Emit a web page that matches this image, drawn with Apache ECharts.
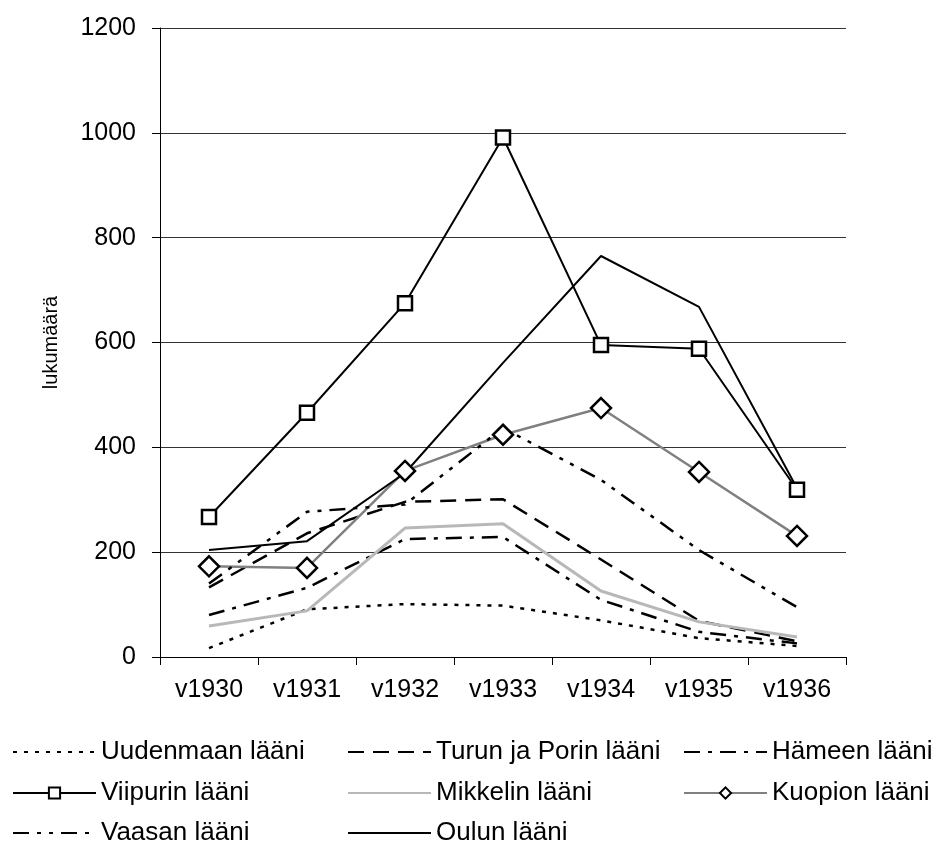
<!DOCTYPE html>
<html>
<head>
<meta charset="utf-8">
<script src="https://cdn.jsdelivr.net/npm/echarts@6/dist/echarts.min.js"></script>
<style>
  html, body { margin: 0; padding: 0; background: #fff; }
  #chart { width: 939px; height: 842px; }
</style>
</head>
<body>
<div id="chart"></div>
<script>
// vuodet ja läänit
var years = ['v1930', 'v1931', 'v1932', 'v1933', 'v1934', 'v1935', 'v1936'];
var yTicks = [0, 200, 400, 600, 800, 1000, 1200];

var uudenmaa = [17, 91, 101, 98, 70, 36, 21];
var turunPori = [133, 236, 296, 301, 186, 69, 30];
var hame = [80, 132, 225, 229, 109, 48, 26];
var viipuri = [267, 466, 675, 991, 595, 588, 319];
var mikkeli = [59, 88, 246, 254, 126, 67, 38];
var kuopio = [173, 170, 355, 424, 475, 353, 231];
var vaasa = [140, 277, 291, 437, 338, 204, 95];
var oulu = [204, 221, 351, 561, 765, 668, 322];

var font = 'Liberation Sans, Arial, sans-serif';

function lineSeries(name, data, color, width, dash, symbol, symbolSize) {
    return {
        name: name,
        type: 'line',
        data: data,
        symbol: symbol || 'none',
        symbolSize: symbolSize || 0,
        showSymbol: !!symbol,
        itemStyle: {
            color: '#fff',
            borderColor: '#000',
            borderWidth: 2.5
        },
        lineStyle: {
            color: color,
            width: width,
            type: dash || 'solid'
        },
        emphasis: { disabled: true },
        animation: false
    };
}

// selitteen rivit: nimi, vasen reuna, rivin keskikohta, onko merkki
function legendItem(name, left, cy, hasSymbol) {
    return {
        orient: 'horizontal',
        left: left,
        top: cy - 13,
        padding: 0,
        itemWidth: 83,
        itemHeight: 14,
        itemStyle: hasSymbol ? {} : { opacity: 0 },
        textStyle: { color: '#000', fontSize: 26, fontFamily: font },
        selectedMode: false,
        data: [name]
    };
}

var myChart = echarts.init(document.getElementById('chart'));
var option = {
    backgroundColor: '#fff',
    grid: {
        left: 160,
        right: 93,
        top: 28,
        bottom: 185
    },
    legend: [
        legendItem('Uudenmaan lääni', 12, 752, false),
        legendItem('Viipurin lääni', 12, 793, true),
        legendItem('Vaasan lääni', 12, 833, false),
        legendItem('Turun ja Porin lääni', 347, 752, false),
        legendItem('Mikkelin lääni', 347, 793, false),
        legendItem('Oulun lääni', 347, 833, false),
        legendItem('Hämeen lääni', 683, 752, false),
        legendItem('Kuopion lääni', 683, 793, true)
    ],
    xAxis: {
        type: 'category',
        boundaryGap: true,
        data: years,
        axisLine: { lineStyle: { color: '#000', width: 1 } },
        axisTick: { show: true, length: 8, lineStyle: { color: '#000' } },
        axisLabel: {
            color: '#000',
            fontSize: 25,
            fontFamily: font,
            margin: 21
        },
        splitLine: { show: false }
    },
    yAxis: {
        type: 'value',
        min: yTicks[0],
        max: yTicks[yTicks.length - 1],
        interval: 200,
        name: 'lukumäärä',
        nameLocation: 'middle',
        nameGap: 99,
        nameTextStyle: { color: '#000', fontSize: 20, fontFamily: font },
        axisLine: { show: true, lineStyle: { color: '#000', width: 1 } },
        axisTick: { show: true, length: 8, lineStyle: { color: '#000' } },
        axisLabel: {
            color: '#000',
            fontSize: 25,
            fontFamily: font,
            margin: 24,
            formatter: function (v) { return String(v); }
        },
        splitLine: { show: true, lineStyle: { color: '#333', width: 1 } }
    },
    series: [
        lineSeries('Uudenmaan lääni', uudenmaa, '#000', 2.5, [4, 7]),
        lineSeries('Turun ja Porin lääni', turunPori, '#000', 2.5, [16, 9]),
        lineSeries('Hämeen lääni', hame, '#000', 2.5, [16, 8, 4, 8]),
        lineSeries('Viipurin lääni', viipuri, '#000', 2, null, 'rect', 14),
        lineSeries('Mikkelin lääni', mikkeli, '#b8b8b8', 3),
        lineSeries('Kuopion lääni', kuopio, '#808080', 2.5, null, 'diamond', 20),
        lineSeries('Vaasan lääni', vaasa, '#000', 2.5, [16, 8, 4, 8, 4, 8]),
        lineSeries('Oulun lääni', oulu, '#000', 2)
    ]
};
myChart.setOption(option);
</script>
</body>
</html>
